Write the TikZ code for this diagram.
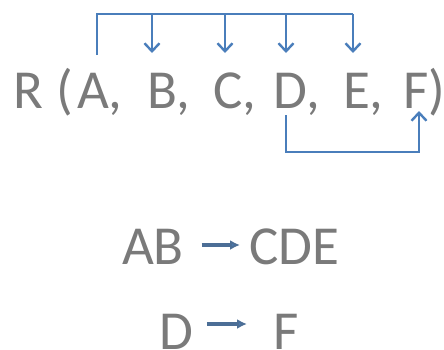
\documentclass[tikz,border=0pt]{standalone}
\usepackage{fontspec}
\setmainfont{Carlito}
\usetikzlibrary{arrows.meta,calc}
\definecolor{txtgray}{HTML}{7A7A7A}
\definecolor{lnblue}{HTML}{4A7EBB}
\definecolor{fdline}{HTML}{4C6E96}
\begin{document}
\begin{tikzpicture}[x=1pt,y=1pt,
  lt/.style={inner sep=0pt,outer sep=0pt,anchor=base west,text=txtgray,font=\fontsize{55}{66}\selectfont},
  dep/.style={draw=lnblue,line width=2.6pt},
  dtip/.style={dep,-{Straight Barb[length=8pt,width=15pt,line width=2.4pt]}},
  fd/.style={draw=fdline,line width=3.2pt,-{Latex[length=10pt,width=10pt,fill=lnblue]}}]
\useasboundingbox (0,0) rectangle (444,349);
% line 1
\node[lt] (R) at (13,241) {R};
\node[lt] (op) at (56,241) {(};
\node[lt] (A) at (77,241) {A};
\node[lt] (c1) at (A.base east) {,};
\node[lt] (B) at (147,241) {B};
\node[lt] (c2) at (B.base east) {,};
\node[lt] (C) at (213,241) {C};
\node[lt] (c3) at (C.base east) {,};
\node[lt] (D) at (273,241) {D};
\node[lt] (c4) at (D.base east) {,};
\node[lt] (E) at (343,241) {E};
\node[lt] (c5) at (E.base east) {,};
\node[lt] (F) at (403,241) {F};
\node[lt] (cl) at (428,241) {)};
% top dependency bracket
\coordinate (top) at (0,335);
\coordinate (tipy) at (0,296);
\coordinate (abot) at (0,294);
\coordinate (xA) at (97,0);
\coordinate (xB) at ($(B.west)+(5,0)$);
\coordinate (xC) at ($(C.west)+(12,0)$);
\coordinate (xD) at ($(D.west)+(13,0)$);
\coordinate (xE) at ($(E.west)+(10,0)$);
\coordinate (xF) at ($(F.west)+(16,0)$);
\draw[dep] (xA |- abot) -- (xA |- top) -- (xE |- top);
\draw[dtip] (xB |- top) -- (xB |- tipy);
\draw[dtip] (xC |- top) -- (xC |- tipy);
\draw[dtip] (xD |- top) -- (xD |- tipy);
\draw[dtip] (xE |- top) -- (xE |- tipy);
% bottom bracket
\coordinate (bstart) at (0,234);
\coordinate (bot) at (0,197);
\coordinate (btip) at (0,238);
\draw[dtip] (xD |- bstart) -- (xD |- bot) -- (xF |- bot) -- (xF |- btip);
% functional dependencies
\node[lt] (AB) at (122,85) {AB};
\node[lt] (CDE) at (249,85) {CDE};
\draw[fd] ($(AB.base east)+(18,19)$) -- ($(CDE.base west)+(-9,19)$);
\node[lt] (D2) at (159,0) {D};
\node[lt] (F2) at (273,0) {F};
\draw[fd] ($(D2.base east)+(14,25)$) -- ($(F2.base west)+(-26,25)$);
\end{tikzpicture}
\end{document}
